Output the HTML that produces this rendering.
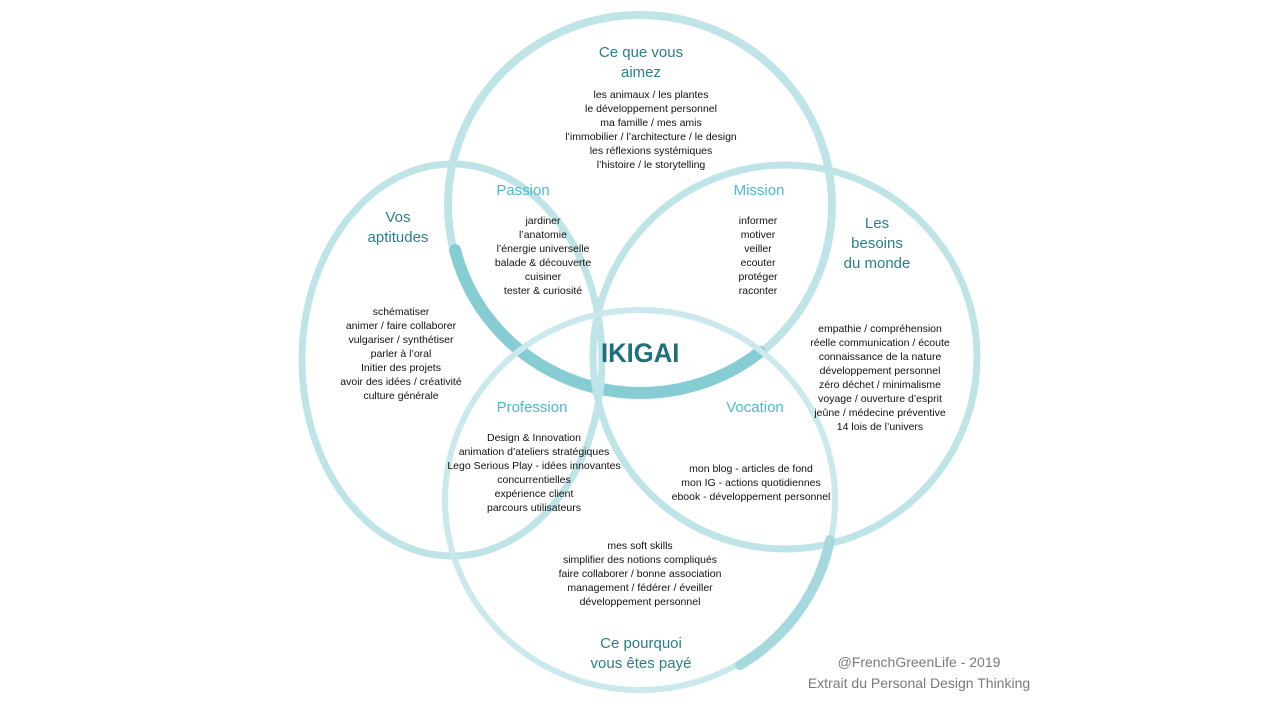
<!DOCTYPE html>
<html><head><meta charset="utf-8"><style>
body{margin:0;width:1280px;height:720px;background:#fff;position:relative;overflow:hidden;font-family:"Liberation Sans",sans-serif}
.t{position:absolute;text-align:center;font-size:10.5px;line-height:14px;color:#111;transform:translateX(-50%);white-space:nowrap}
.h{position:absolute;text-align:center;font-size:15px;line-height:20px;color:#2b7f8c;transform:translateX(-50%);white-space:nowrap}
.s{position:absolute;font-size:15px;color:#4bbccb;transform:translateX(-50%);white-space:nowrap}
</style></head><body>
<svg width="1280" height="720" style="position:absolute;left:0;top:0">
<g fill="none" stroke-linecap="round">
<ellipse cx="640" cy="205" rx="192" ry="190" stroke="#bfe4e8" stroke-width="8"/>
<path d="M455 250 A192 190 0 0 0 760 352" stroke="#86ccd3" stroke-width="12"/>
<ellipse cx="452" cy="360" rx="150" ry="196" stroke="#bfe4e8" stroke-width="7"/>
<ellipse cx="785" cy="357" rx="192" ry="192" stroke="#bfe4e8" stroke-width="7"/>
<ellipse cx="640" cy="500" rx="195" ry="190" stroke="#cbe9ec" stroke-width="6"/>
<path d="M830 540 A195 190 0 0 1 740 665" stroke="#a6d9de" stroke-width="10"/>
</g></svg>
<div class="h" style="left:641px;top:43px">Ce que vous<br>aimez</div>
<div class="t" style="left:651px;top:88px">les animaux / les plantes<br>le développement personnel<br>ma famille / mes amis<br>l’immobilier / l’architecture / le design<br>les réflexions systémiques<br>l’histoire / le storytelling</div>
<div class="s" style="left:523px;top:182px">Passion</div>
<div class="s" style="left:759px;top:182px">Mission</div>
<div class="t" style="left:543px;top:214px">jardiner<br>l’anatomie<br>l’énergie universelle<br>balade &amp; découverte<br>cuisiner<br>tester &amp; curiosité</div>
<div class="t" style="left:758px;top:214px">informer<br>motiver<br>veiller<br>ecouter<br>protéger<br>raconter</div>
<div class="h" style="left:398px;top:208px">Vos<br>aptitudes</div>
<div class="h" style="left:877px;top:214px">Les<br>besoins<br>du monde</div>
<div class="t" style="left:401px;top:305px">schématiser<br>animer / faire collaborer<br>vulgariser / synthétiser<br>parler à l’oral<br>Initier des projets<br>avoir des idées / créativité<br>culture générale</div>
<div class="t" style="left:880px;top:322px">empathie / compréhension<br>réelle communication / écoute<br>connaissance de la nature<br>développement personnel<br>zéro déchet / minimalisme<br>voyage / ouverture d’esprit<br>jeûne / médecine préventive<br>14 lois de l’univers</div>
<div style="position:absolute;left:601px;top:338px;font-size:27px;font-weight:bold;color:#1f6f7c;transform:scaleX(0.95);transform-origin:left">IKIGAI</div>
<div class="s" style="left:532px;top:399px">Profession</div>
<div class="s" style="left:755px;top:399px">Vocation</div>
<div class="t" style="left:534px;top:431px">Design &amp; Innovation<br>animation d’ateliers stratégiques<br>Lego Serious Play - idées innovantes<br>concurrentielles<br>expérience client<br>parcours utilisateurs</div>
<div class="t" style="left:751px;top:462px">mon blog - articles de fond<br>mon IG - actions quotidiennes<br>ebook - développement personnel</div>
<div class="t" style="left:640px;top:539px">mes soft skills<br>simplifier des notions compliqués<br>faire collaborer / bonne association<br>management / fédérer / éveiller<br>développement personnel</div>
<div class="h" style="left:641px;top:634px">Ce pourquoi<br>vous êtes payé</div>
<div style="position:absolute;left:790px;top:652px;width:258px;text-align:center;font-size:14px;line-height:21px;color:#7a7a7a">@FrenchGreenLife - 2019<br>Extrait du Personal Design Thinking</div>
</body></html>
